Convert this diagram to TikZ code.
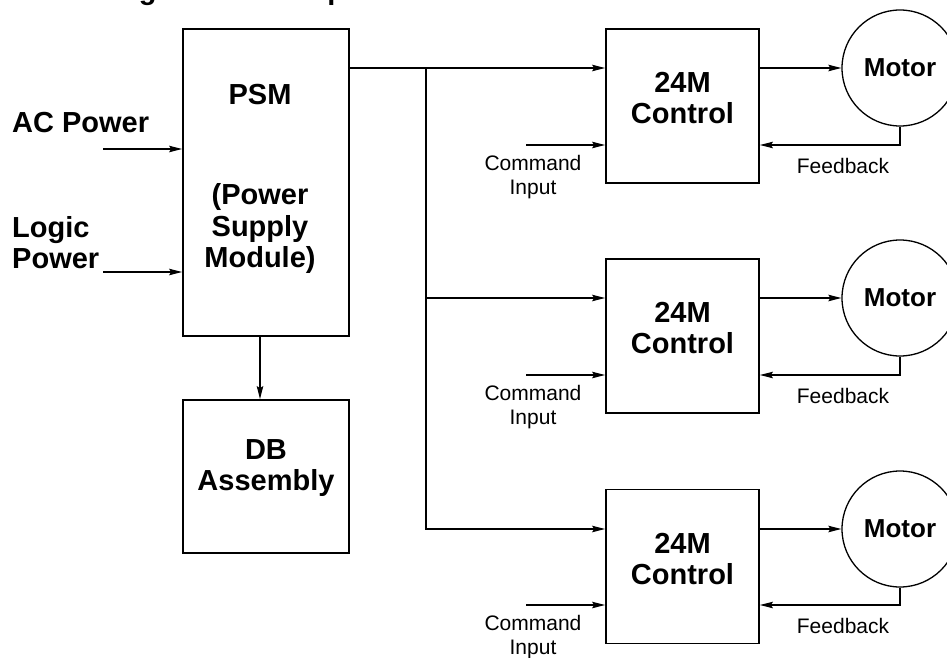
\documentclass[tikz,border=0pt]{standalone}
\usepackage{fontspec}
\setmainfont{Liberation Sans}
\usetikzlibrary{arrows.meta}
\begin{document}
\begin{tikzpicture}[x=1pt,y=-1pt,
  blk/.style={draw, line width=1.8pt, inner sep=0pt},
  lbl/.style={font=\fontsize{29}{31}\selectfont\bfseries, align=center, inner sep=0pt},
  small/.style={font=\fontsize{21}{24}\selectfont, align=center, inner sep=0pt},
  motor/.style={draw, circle, line width=1.3pt, minimum size=116pt, inner sep=0pt, font=\fontsize{26}{28}\selectfont\bfseries},
  arr/.style={line width=1.2pt, -{Stealth[length=13pt,width=6.5pt,inset=2pt]}}]
\useasboundingbox (0,0) rectangle (947,658);
\fill[white] (0,0) rectangle (947,658);

% title (mostly outside the visible area)
\node[anchor=base west, font=\fontsize{29}{31}\selectfont\bfseries, inner sep=0pt] (title) at (113,-0.5) {Figure 2-1 Multiple Controls on a Common PSM};

% blocks
\node[blk, minimum width=166pt, minimum height=307pt] (psm) at (266,182.5) {};
\node[blk, minimum width=166pt, minimum height=153pt] (db) at (266,476.5) {};
\node[blk, minimum width=153pt, minimum height=154pt] (c1) at (682.5,106) {};
\node[blk, minimum width=153pt, minimum height=154pt] (c2) at (682.5,336) {};
\node[blk, minimum width=153pt, minimum height=154pt] (c3) at (682.5,566.5) {};

\node[lbl] (psmt) at (260,95) {PSM};
\node[lbl, font=\fontsize{29}{31.5}\selectfont\bfseries] (psmd) at (260,229) {(Power\\Supply\\Module)};
\node[lbl] (dbt) at (266,468) {DB\\Assembly};
\node[lbl] (c1t) at (682.5,98.5) {24M\\Control};
\node[lbl] (c2t) at (682.5,328.5) {24M\\Control};
\node[lbl] (c3t) at (682.5,559) {24M\\Control};

% motors
\node[motor] (m1) at (900,68) {Motor};
\node[motor] (m2) at (900,298) {Motor};
\node[motor] (m3) at (900,529) {Motor};

% inputs to PSM
\node[lbl, anchor=west] (ac) at (12,123) {AC Power};
\node[lbl, anchor=west, align=left] (lp) at (12,242.5) {Logic\\Power};
\coordinate (acs) at (103,149);
\coordinate (lps) at (103,272);
\draw[arr] (acs) -- (psm.west |- acs);
\draw[arr] (lps) -- (psm.west |- lps);

% PSM to DB
\draw[arr] ([xshift=-6pt]psm.south) -- ([xshift=-6pt]db.north);

% bus
\coordinate (j1) at (426,68);
\draw[arr] (psm.east |- m1) -- (c1.west |- m1);
\draw[arr] (j1) |- (c3.west |- m3);
\draw[arr] (j1 |- m2) -- (c2.west |- m2);

% control to motor
\draw[arr] (c1.east |- m1) -- (m1);
\draw[arr] (c2.east |- m2) -- (m2);
\draw[arr] (c3.east |- m3) -- (m3);

% command inputs
\coordinate (k1) at (526,145);
\coordinate (k2) at (526,375);
\coordinate (k3) at (526,605);
\draw[arr] (k1) -- (c1.west |- k1);
\draw[arr] (k2) -- (c2.west |- k2);
\draw[arr] (k3) -- (c3.west |- k3);
\node[small] (cmd1) at (533,177) {Command\\Input};
\node[small] (cmd2) at (533,407) {Command\\Input};
\node[small] (cmd3) at (533,637) {Command\\Input};

% feedback
\draw[arr] (m1.south) |- (c1.east |- k1);
\draw[arr] (m2.south) |- (c2.east |- k2);
\draw[arr] (m3.south) |- (c3.east |- k3);
\node[small] (fb1) at (843,166) {Feedback};
\node[small] (fb2) at (843,396) {Feedback};
\node[small] (fb3) at (843,626) {Feedback};
\end{tikzpicture}
\end{document}
